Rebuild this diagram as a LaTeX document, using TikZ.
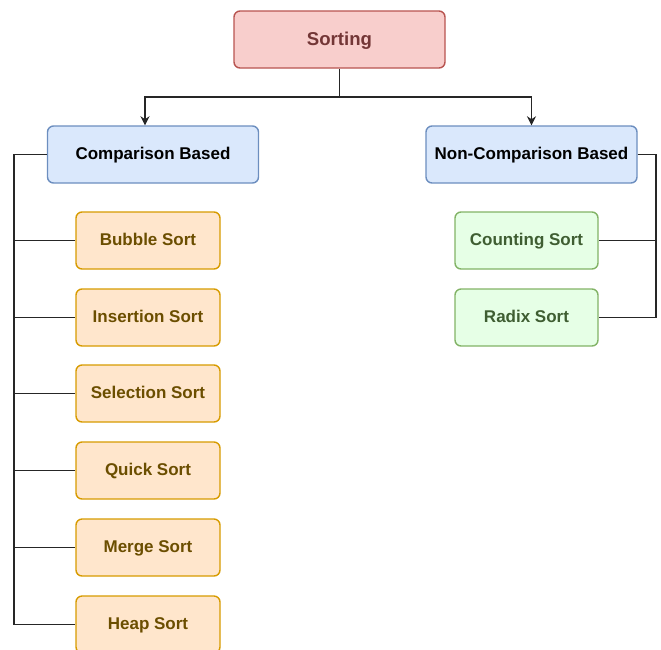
\documentclass[tikz,border=0pt]{standalone}
\usepackage{fontspec}
\setmainfont{Liberation Sans}
\usetikzlibrary{arrows.meta}
\definecolor{redfill}{HTML}{F8CECC}
\definecolor{redline}{HTML}{B85450}
\definecolor{redtext}{HTML}{733636}
\definecolor{bluefill}{HTML}{DAE8FC}
\definecolor{blueline}{HTML}{6C8EBF}
\definecolor{orfill}{HTML}{FFE6CC}
\definecolor{orline}{HTML}{D79B00}
\definecolor{ortext}{HTML}{6B4E00}
\definecolor{grfill}{HTML}{E6FFE6}
\definecolor{grline}{HTML}{82B366}
\definecolor{grtext}{HTML}{3F5E32}
\tikzset{
  box/.style={draw, line width=1.4pt, rounded corners=6pt, minimum height=57pt, inner sep=0pt, text height=12.5pt, text depth=2pt, font=\bfseries\fontsize{17}{20}\selectfont},
  rootbox/.style={box, fill=redfill, draw=redline, text=redtext, minimum width=211pt, text height=13.5pt, font=\bfseries\fontsize{18.6}{22}\selectfont},
  catbox/.style={box, fill=bluefill, draw=blueline, text=black, minimum width=211pt},
  obox/.style={box, fill=orfill, draw=orline, text=ortext, minimum width=144pt},
  gbox/.style={box, fill=grfill, draw=grline, text=grtext, minimum width=143pt},
  conn/.style={line width=1.7pt, draw=black!85},
  arr/.style={conn, -{Stealth[length=9pt,width=9pt]}}
}
\begin{document}
\begin{tikzpicture}[x=1pt,y=-1pt]
\useasboundingbox (0,0) rectangle (661,649);
\node[rootbox] (root) at (339.5,39.5) {Sorting};
\node[catbox] (cmp) at (153,154.5) {Comparison Based};
\node[catbox] (ncmp) at (531.5,154.5) {Non-Comparison Based};
\node[obox] (bubble) at (148,240.5) {Bubble Sort};
\node[obox] (insert) at (148,317.5) {Insertion Sort};
\node[obox] (select) at (148,393.5) {Selection Sort};
\node[obox] (quick) at (148,470.5) {Quick Sort};
\node[obox] (merge) at (148,547.5) {Merge Sort};
\node[obox] (heap) at (148,624.5) {Heap Sort};
\node[gbox] (count) at (526.5,240.5) {Counting Sort};
\node[gbox] (radix) at (526.5,317.5) {Radix Sort};
\coordinate (mid) at (339.5,97);
\coordinate (lx) at (145,0);
\coordinate (lsp) at (14,0);
\coordinate (rsp) at (656,0);
\draw[arr] (root.south) -- (mid) -| (lx |- cmp.north);
\draw[arr] (mid) -| (ncmp.north);
\foreach \n in {bubble,insert,select,quick,merge,heap}
  \draw[conn] (cmp.west) -| (lsp |- \n.west) -- (\n.west);
\foreach \n in {count,radix}
  \draw[conn] (ncmp.east) -| (rsp |- \n.east) -- (\n.east);
\end{tikzpicture}
\end{document}
